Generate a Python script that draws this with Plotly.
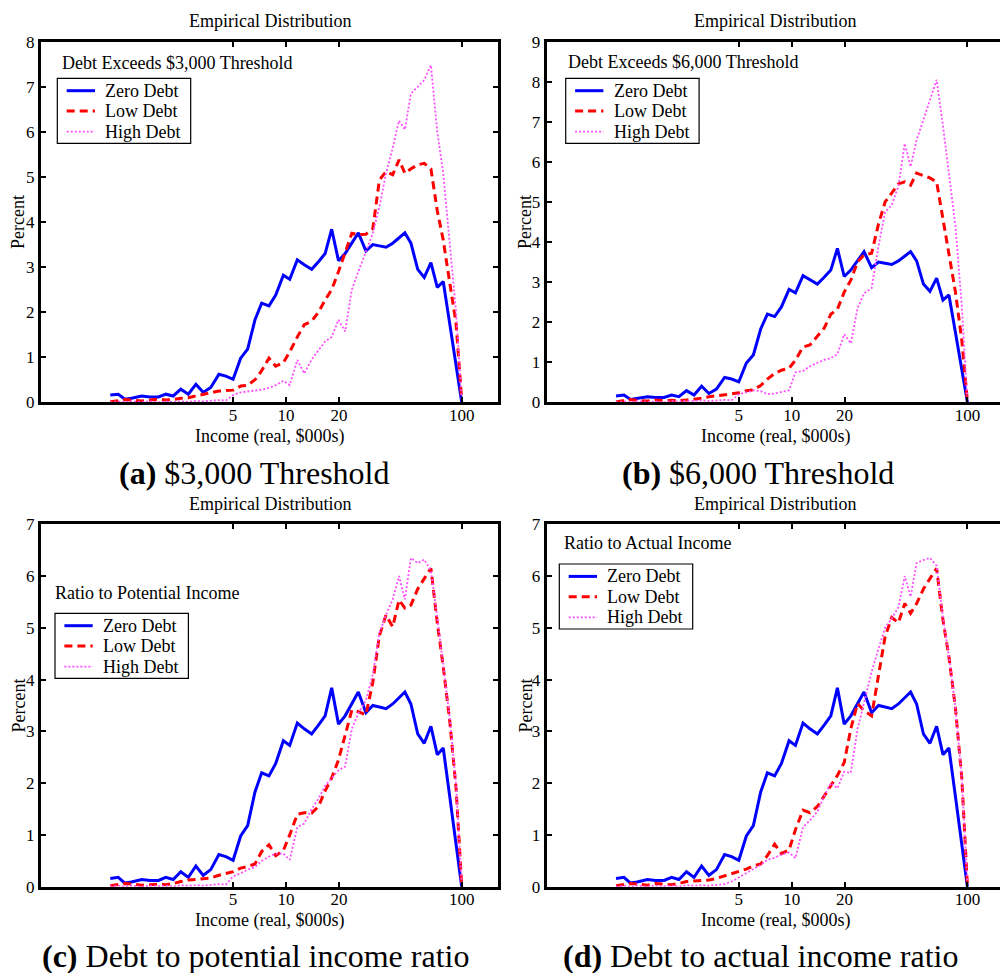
import plotly.graph_objects as go

# ---------------- data ----------------
income = [1.0, 1.11, 1.21, 1.32, 1.51, 1.68, 1.88, 2.07, 2.28, 2.52,
          2.78, 3.07, 3.38, 3.73, 4.15, 4.55, 5.0, 5.52, 6.05, 6.66,
          7.27, 8.0, 8.74, 9.66, 10.5, 11.6, 12.7, 14.0, 15.3, 16.7,
          18.2, 19.9, 21.7, 23.7, 25.8, 28.5, 31.2, 34.0, 37.1, 40.5,
          44.0, 47.5, 51.4, 56.2, 61.2, 66.8, 72.6, 78.5, 85.5, 92.9,
          100.0]

zero_debt = [0.16, 0.18, 0.07, 0.09, 0.14, 0.12, 0.12, 0.18, 0.14, 0.29,
             0.18, 0.40, 0.22, 0.33, 0.62, 0.58, 0.51, 0.98, 1.18, 1.83,
             2.20, 2.14, 2.38, 2.82, 2.73, 3.16, 3.05, 2.95, 3.12, 3.30,
             3.84, 3.14, 3.30, 3.55, 3.76, 3.36, 3.50, 3.47, 3.44, 3.53,
             3.65, 3.76, 3.53, 2.95, 2.77, 3.10, 2.55, 2.68, 1.74, 0.83,
             0.0]

low_a = [0.01, 0.03, 0.06, 0.05, 0.03, 0.05, 0.07, 0.05, 0.06, 0.09,
         0.10, 0.14, 0.17, 0.21, 0.25, 0.26, 0.27, 0.36, 0.38, 0.50,
         0.70, 0.98, 0.80, 0.88, 1.12, 1.45, 1.72, 1.80, 2.00, 2.27,
         2.50, 2.90, 3.32, 3.75, 3.72, 3.73, 3.85, 4.93, 5.12, 5.05,
         5.38, 5.08, 5.18, 5.27, 5.30, 5.18, 4.25, 3.60, 2.65, 1.75,
         0.05]
high_a = [0.0, 0.02, 0.0, 0.02, 0.01, 0.02, 0.0, 0.02, 0.0, 0.02,
          0.01, 0.03, 0.02, 0.03, 0.05, 0.04, 0.16, 0.22, 0.24, 0.26,
          0.28, 0.32, 0.38, 0.48, 0.38, 0.94, 0.64, 0.95, 1.15, 1.35,
          1.45, 1.83, 1.57, 2.50, 2.90, 3.35, 3.75, 4.34, 5.08, 5.65,
          6.25, 6.05, 6.85, 7.00, 7.15, 7.48, 6.00, 5.08, 3.57, 2.00,
          0.05]

low_b = [0.01, 0.05, 0.07, 0.05, 0.03, 0.06, 0.04, 0.05, 0.04, 0.06,
         0.08, 0.10, 0.14, 0.16, 0.18, 0.21, 0.24, 0.29, 0.31, 0.42,
         0.58, 0.72, 0.80, 0.85, 1.05, 1.38, 1.43, 1.65, 1.85, 2.20,
         2.32, 2.75, 3.05, 3.50, 3.68, 3.72, 4.45, 5.00, 5.22, 5.45,
         5.50, 5.42, 5.72, 5.65, 5.60, 5.50, 4.60, 3.75, 2.75, 1.55,
         0.02]
high_b = [0.0, 0.02, 0.0, 0.03, 0.01, 0.02, 0.0, 0.03, 0.02, 0.04,
          0.03, 0.05, 0.03, 0.04, 0.06, 0.05, 0.20, 0.25, 0.30, 0.28,
          0.20, 0.22, 0.25, 0.30, 0.75, 0.78, 0.90, 0.98, 1.06, 1.10,
          1.20, 1.70, 1.47, 2.35, 2.72, 2.85, 3.90, 4.75, 4.92, 5.40,
          6.46, 5.88, 6.55, 7.05, 7.55, 8.05, 6.90, 5.75, 4.40, 2.40,
          0.02]

low_c = [0.02, 0.04, 0.06, 0.05, 0.03, 0.04, 0.05, 0.04, 0.06, 0.10,
         0.13, 0.14, 0.15, 0.17, 0.22, 0.25, 0.29, 0.36, 0.39, 0.44,
         0.68, 0.81, 0.60, 0.70, 1.00, 1.40, 1.43, 1.42, 1.55, 1.85,
         2.10, 2.45, 2.90, 3.41, 3.38, 3.32, 3.95, 4.85, 5.25, 5.02,
         5.54, 5.38, 5.44, 5.75, 5.95, 6.15, 5.10, 4.25, 3.20, 1.90,
         0.02]
high_c = [0.0, 0.02, 0.0, 0.02, 0.0, 0.02, 0.01, 0.02, 0.0, 0.03,
          0.02, 0.03, 0.02, 0.03, 0.05, 0.04, 0.20, 0.26, 0.33, 0.38,
          0.50, 0.58, 0.64, 0.64, 0.52, 1.15, 1.22, 1.50, 1.70, 1.95,
          2.10, 2.25, 2.32, 3.05, 3.35, 3.60, 4.10, 4.90, 5.25, 5.55,
          6.00, 5.55, 6.35, 6.25, 6.32, 6.10, 5.20, 4.30, 3.25, 1.95,
          0.05]

low_d = [0.02, 0.04, 0.06, 0.05, 0.03, 0.06, 0.05, 0.04, 0.06, 0.10,
         0.11, 0.12, 0.13, 0.16, 0.21, 0.25, 0.29, 0.34, 0.40, 0.44,
         0.60, 0.82, 0.64, 0.71, 1.10, 1.48, 1.43, 1.55, 1.75, 1.95,
         2.15, 2.40, 3.05, 3.54, 3.40, 3.30, 4.05, 4.83, 5.20, 5.10,
         5.47, 5.28, 5.47, 5.75, 5.95, 6.15, 5.15, 4.44, 3.45, 2.10,
         0.02]
high_d = [0.0, 0.02, 0.0, 0.02, 0.0, 0.02, 0.01, 0.02, 0.0, 0.03,
          0.02, 0.03, 0.02, 0.03, 0.05, 0.10, 0.18, 0.26, 0.33, 0.42,
          0.52, 0.56, 0.62, 0.66, 0.55, 1.15, 1.28, 1.45, 1.75, 2.00,
          1.90, 2.22, 2.20, 3.05, 3.55, 4.15, 4.60, 5.00, 5.18, 5.40,
          6.00, 5.60, 6.25, 6.31, 6.35, 6.20, 5.20, 4.45, 3.45, 2.10,
          0.05]

series_names = ["Zero Debt", "Low Debt", "High Debt"]
panel_notes = ["Debt Exceeds $3,000 Threshold", "Debt Exceeds $6,000 Threshold",
               "Ratio to Potential Income", "Ratio to Actual Income"]
captions = ["<b>(a)</b> $3,000 Threshold", "<b>(b)</b> $6,000 Threshold",
            "<b>(c)</b> Debt to potential income ratio",
            "<b>(d)</b> Debt to actual income ratio"]
y_max = [8, 9, 7, 7]
x_ticks = [5, 10, 20, 100]
panel_title = "Empirical Distribution"
x_title = "Income (real, $000s)"
y_title = "Percent"

panels = [(zero_debt, low_a, high_a), (zero_debt, low_b, high_b),
          (zero_debt, low_c, high_c), (zero_debt, low_d, high_d)]

# ---------------- layout geometry (pixels) ----------------
W, H = 1000, 973
FONT = "Liberation Serif"

def px_x(p):
    return p / W

def px_y(p):
    return 1 - p / H

x_dom = [[41, 498], [546.7, 1000], [41, 498], [546.7, 1000]]
y_dom = [[41.7, 402.3], [41.7, 402.3], [524.3, 886.7], [524.3, 886.7]]
x_rng = [[-0.3944, 2.2066], [-0.3944, 2.1855], [-0.3944, 2.2066], [-0.3944, 2.1855]]
mirror_y = [True, False, True, False]

styles = [dict(color="#0000FF", width=3, dash="solid"),
          dict(color="#FF0000", width=3, dash="8px,5px"),
          dict(color="#FF4DFF", width=1.8, dash="2px,2px")]

legend_box = [(57.3, 78.3), (565.7, 78.3), (55, 613.3), (559.3, 564)]
LEG_W, LEG_H = 133.4, 65
row_off = [12.4, 32.7, 53.4]
note_pos = [(60, 63), (566, 61.7), (53.3, 593.3), (561.7, 543.3)]
title_pos = [(269.5, 21), (775.2, 21), (269.5, 504), (775.2, 504)]
xlab_pos = [(269.5, 436), (775.2, 436), (269.5, 920), (775.2, 920)]
ylab_pos = [(18, 222), (525, 222), (18, 705.5), (525, 705.5)]
cap_pos = [(254, 473), (758, 473), (255, 956), (760, 956)]

fig = go.Figure()
annotations = []
shapes = []
layout = dict(width=W, height=H, margin=dict(l=0, r=0, t=0, b=0, autoexpand=False),
              paper_bgcolor="white", plot_bgcolor="white", showlegend=False,
              font=dict(family=FONT, color="black"))

def text(t, x, y, size, xanchor="center", angle=0):
    annotations.append(dict(text=t, x=px_x(x), y=px_y(y), xref="paper",
                            yref="paper", xanchor=xanchor, yanchor="middle",
                            showarrow=False, textangle=angle,
                            font=dict(family=FONT, size=size, color="black")))

for i, data in enumerate(panels):
    n = "" if i == 0 else str(i + 1)
    for name, ys, st in zip(series_names, data, styles):
        fig.add_trace(go.Scatter(x=income, y=ys, mode="lines", name=name,
                                 line=st, xaxis="x" + n, yaxis="y" + n,
                                 hoverinfo="skip"))
    layout["xaxis" + n] = dict(
        type="log", domain=[px_x(x_dom[i][0]), px_x(x_dom[i][1])],
        range=x_rng[i], anchor="y" + n, tickvals=x_ticks,
        ticktext=[str(t) for t in x_ticks], ticks="inside", ticklen=5,
        tickwidth=2, tickcolor="black", showline=True, linewidth=3,
        linecolor="black", mirror="ticks", showgrid=False, zeroline=False,
        automargin=False, ticklabelstandoff=-5,
        tickfont=dict(family=FONT, size=17, color="black"))
    layout["yaxis" + n] = dict(
        domain=[px_y(y_dom[i][1]), px_y(y_dom[i][0])], range=[0, y_max[i]],
        anchor="x" + n, dtick=1, ticks="inside", ticklen=5, tickwidth=2,
        tickcolor="black", showline=True, linewidth=3, linecolor="black",
        mirror="ticks" if mirror_y[i] else False, showgrid=False,
        zeroline=False, automargin=False,
        tickfont=dict(family=FONT, size=17, color="black"))

    # legend box drawn in paper pixels
    bx, by = legend_box[i]
    shapes.append(dict(type="rect", xref="paper", yref="paper",
                       x0=px_x(bx), x1=px_x(bx + LEG_W),
                       y0=px_y(by), y1=px_y(by + LEG_H),
                       line=dict(color="black", width=1.2), fillcolor="white",
                       layer="above"))
    for name, st, off in zip(series_names, styles, row_off):
        shapes.append(dict(type="line", xref="paper", yref="paper",
                           x0=px_x(bx + 9.4), x1=px_x(bx + 37.7),
                           y0=px_y(by + off), y1=px_y(by + off),
                           line=dict(color=st["color"], width=st["width"],
                                     dash=st["dash"]), layer="above"))
        text(name, bx + 46, by + off, 18, xanchor="left")

    text(panel_notes[i], note_pos[i][0], note_pos[i][1], 18, xanchor="left")
    text(panel_title, title_pos[i][0], title_pos[i][1], 18)
    text(x_title, xlab_pos[i][0], xlab_pos[i][1], 18)
    text(y_title, ylab_pos[i][0], ylab_pos[i][1], 18, angle=-90)
    text(captions[i], cap_pos[i][0], cap_pos[i][1], 32)

layout["annotations"] = annotations
layout["shapes"] = shapes
fig.update_layout(**layout)
fig.write_html("out.html")
